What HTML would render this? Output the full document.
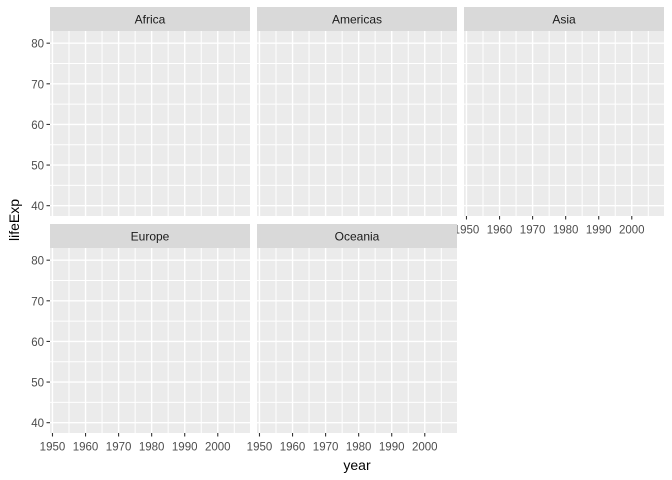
<!DOCTYPE html>
<html><head><meta charset="utf-8"><style>
html,body{margin:0;padding:0;background:#fff}
svg{display:block;font-family:"Liberation Sans",Arial,sans-serif}
</style></head><body>
<svg id="chart" width="672" height="480" viewBox="0 0 672 480"></svg>
<script>
const facets = ["Africa","Americas","Asia","Europe","Oceania"];
const xTicks = [1950,1960,1970,1980,1990,2000];
const xMinor = [1955,1965,1975,1985,1995,2005];
const yTicks = [40,50,60,70,80];
const yMinor = [45,55,65,75];
const xDomain = [1949.25,2009.75];
const yDomain = [37.46,83.0];

const NS="http://www.w3.org/2000/svg";
const svg=document.getElementById('chart');
function el(tag,attrs,parent){const e=document.createElementNS(NS,tag);for(const k in attrs)e.setAttribute(k,attrs[k]);(parent||svg).appendChild(e);return e;}
const colX=[50,257,464], pw=200;
const rows=[{st:7,top:31,bot:216},{st:224,top:248,bot:433}];
facets.forEach((name,i)=>{
  const col=i%3,row=Math.floor(i/3);
  const x0=colX[col],r=rows[row];
  const sx=v=>x0+(v-xDomain[0])/(xDomain[1]-xDomain[0])*pw;
  const sy=v=>r.bot-(v-yDomain[0])/(yDomain[1]-yDomain[0])*(r.bot-r.top);
  const g=el('g',{});
  
  
  const strip=el('rect',{x:x0,y:r.st,width:pw,height:r.top-r.st,fill:'#d9d9d9'},g);
  
  
  const st=el('text',{x:x0+pw/2,y:r.st+16.5,'text-anchor':'middle','font-size':'12',fill:'#1a1a1a'},g);
  st.textContent=name;
  
  
  const bg=el('rect',{x:x0,y:r.top,width:pw,height:r.bot-r.top,fill:'#ebebeb'},g);
  
  
  yMinor.forEach(v=>{el('line',{x1:x0,x2:x0+pw,y1:sy(v),y2:sy(v),stroke:'#fff','stroke-width':1},g);});
  xMinor.forEach(v=>{el('line',{x1:sx(v),x2:sx(v),y1:r.top,y2:r.bot,stroke:'#fff','stroke-width':1},g);});
  yTicks.forEach(v=>{el('line',{x1:x0,x2:x0+pw,y1:sy(v),y2:sy(v),stroke:'#fff','stroke-width':1.4},g);});
  xTicks.forEach(v=>{el('line',{x1:sx(v),x2:sx(v),y1:r.top,y2:r.bot,stroke:'#fff','stroke-width':1.4},g);});
  if(col===0){
    yTicks.forEach(v=>{
      el('line',{x1:x0-3.5,x2:x0,y1:sy(v),y2:sy(v),stroke:'#333','stroke-width':1.1},g);
      const t=el('text',{x:x0-6,y:sy(v)+4.5,'text-anchor':'end','font-size':'11.5',fill:'#4d4d4d'},g);
      t.textContent=v;
      
      
    });
  }
  if(row===1||i===2){
    xTicks.forEach(v=>{
      el('line',{x1:sx(v),x2:sx(v),y1:r.bot,y2:r.bot+3.5,stroke:'#333','stroke-width':1.1},g);
      const t=el('text',{x:sx(v),y:r.bot+17.5,'text-anchor':'middle','font-size':'11.5',fill:'#4d4d4d'},g);
      t.textContent=v;
      
      
    });
  }
});
const xt=el('text',{x:357,y:470,'text-anchor':'middle','font-size':'14',fill:'#000'});
xt.textContent='year';


const yt=el('text',{x:0,y:0,'text-anchor':'middle','font-size':'14',fill:'#000',transform:'translate(19,220) rotate(-90)'});
yt.textContent='lifeExp';


</script>
</body></html>
